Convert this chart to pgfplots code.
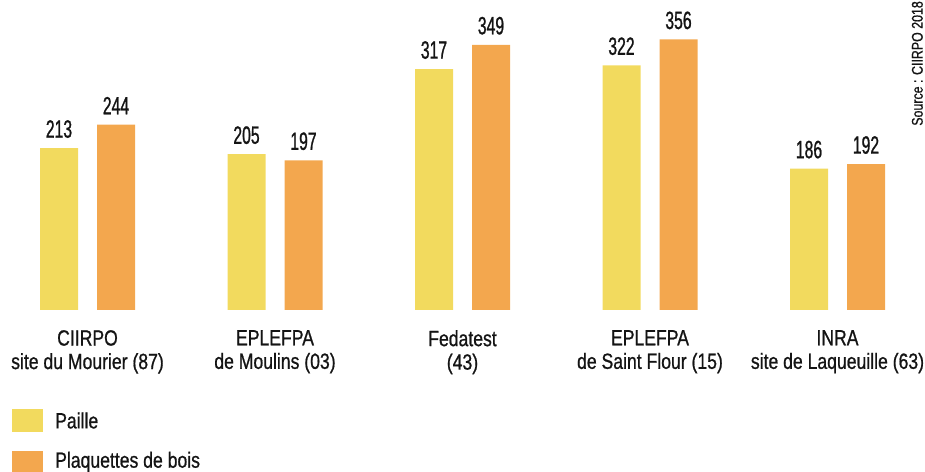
\documentclass[border=0pt]{standalone}
\usepackage{pgfplots}
\pgfplotsset{compat=1.18}
\usepackage{fontspec}
\setmainfont{Liberation Sans}[FakeStretch=0.8, FakeBold=0.8]
\newfontfamily\numfont{Liberation Sans}[FakeStretch=0.63, FakeBold=0.9]
\definecolor{paille}{RGB}{242,218,94}
\definecolor{plaq}{RGB}{243,167,78}
\definecolor{txt}{RGB}{20,20,20}
\begin{document}
\begin{tikzpicture}
\useasboundingbox (0,0) rectangle (925bp,472bp);
\begin{axis}[
  at={(0bp,162bp)}, anchor=south west,
  scale only axis, width=925bp, height=310bp,
  xmin=-0.4667, xmax=4.4667, ymin=0, ymax=407.9,
  axis line style={draw=none}, major tick length=0pt, ytick=\empty,
  ybar, bar width=0.2027,
  /pgf/number format/assume math mode=true,
  xtick={0,1,2,3,4},
  xticklabels={{CIIRPO\\site du Mourier (87)},{EPLEFPA\\de Moulins (03)},{Fedatest\\(43)},{EPLEFPA\\de Saint Flour (15)},{INRA\\site de Laqueuille (63)}},
  xticklabel style={align=center, font=\fontsize{22bp}{23.5bp}\selectfont, text=txt, inner sep=0pt, yshift=-20bp},
  nodes near coords,
  every node near coord/.append style={font=\numfont\fontsize{25bp}{27bp}\selectfont, text=txt, inner sep=0pt, yshift=10bp},
  clip=false,
]
\addplot[draw=none, fill=paille, bar shift=-0.152] coordinates {(0,213) (1,205) (2,317) (3,322) (4,186)};
\addplot[draw=none, fill=plaq, bar shift=0.152] coordinates {(0,244) (1,197) (2,349) (3,356) (4,192)};
\end{axis}
\fill[paille] (12bp,40bp) rectangle (43bp,63bp);
\node[anchor=west, inner sep=0pt, text=txt, font=\fontsize{22bp}{24bp}\selectfont] at (55bp,51.5bp) {Paille};
\fill[plaq] (12bp,-1bp) rectangle (43bp,21bp);
\node[anchor=west, inner sep=0pt, text=txt, font=\fontsize{22bp}{24bp}\selectfont] at (55bp,10bp) {Plaquettes de bois};
\node[rotate=90, anchor=south east, inner sep=0pt, text=txt, font=\fontsize{15.5bp}{16bp}\selectfont] at (923bp,471bp) {Source : CIIRPO 2018};
\end{tikzpicture}
\end{document}
